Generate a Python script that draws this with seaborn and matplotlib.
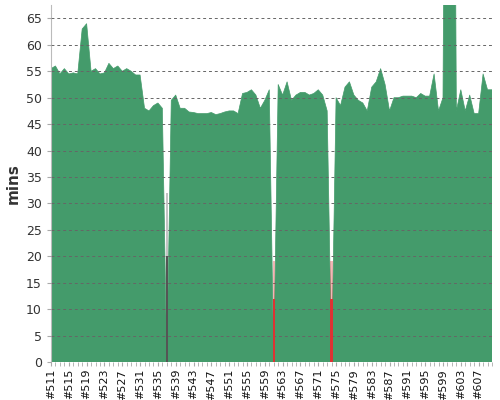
import matplotlib
matplotlib.use("Agg")
import matplotlib.pyplot as plt
import seaborn as sns
import numpy as np
import pandas as pd

builds = list(range(511, 611))
minutes = [55.5, 56, 54.5, 55.5, 54.5, 54.7, 54.5, 63, 64, 55,
           55.5, 54.5, 54.7, 56.5, 55.5, 56, 55, 55.5, 55, 54.3,
           54.3, 48, 47.5, 48.5, 49, 48, 0, 49.5, 50.5, 48,
           48, 47.3, 47.2, 47, 47, 47, 47.2, 46.8, 47, 47.3,
           47.5, 47.5, 47, 50.8, 51, 51.5, 50.5, 48, 49.5, 51.5,
           0, 52.5, 50.5, 53, 49.5, 50.5, 51, 51, 50.5, 50.8,
           51.5, 50.5, 47.5, 0, 50, 48.5, 52, 53, 50.5, 49.5,
           49, 47.5, 52, 53, 55.5, 52.5, 47.5, 50, 50, 50.3,
           50.3, 50.3, 50, 50.8, 50.3, 50.3, 54.5, 47.5, 50, 200,
           200, 47.5, 51.5, 47.5, 50.5, 47, 47, 54.5, 51.5, 51.5]
failed_builds = [537, 561, 574]
failed_colors = ["#555555", "#dd3333", "#dd3333"]
tick_builds = list(range(511, 611, 4))
tick_labels = [f"#{b}" for b in tick_builds]

df = pd.DataFrame({"build": builds, "mins": minutes})

sns.set_style("white")
fig = plt.figure(figsize=(5, 4), dpi=100)
ax = fig.add_axes([0.102, 0.095, 0.882, 0.892])
green = "#449b6b"
sns.lineplot(data=df, x="build", y="mins", ax=ax, color=green, linewidth=0.5)
ax.fill_between(df["build"], df["mins"], 0, color=green, linewidth=0, zorder=2)
for b, c in zip(failed_builds, failed_colors):
    top = 20 if c == "#555555" else 12
    ax.bar([b], [top], width=0.55, color=c, zorder=3, linewidth=0)
    ax.bar([b], [top * 0.6], width=0.55, bottom=top, color=c, alpha=0.35, zorder=3, linewidth=0)

ax.set_xlim(511, 610)
ax.set_ylim(0, 67.5)
ax.set_yticks(range(0, 66, 5))
ax.set_xticks(tick_builds)
ax.set_xticklabels(tick_labels, rotation=90, fontsize=8)
ax.set_xticks(builds, minor=True)
ax.tick_params(axis="x", which="both", bottom=True, length=3, color="#aaaaaa", pad=2)
ax.tick_params(axis="y", left=True, length=3, color="#aaaaaa", labelsize=9, colors="#333333")
ax.tick_params(axis="x", colors="#aaaaaa", labelcolor="#111111")
ax.yaxis.grid(True, linestyle=(0, (3, 3)), color="#666666", linewidth=0.7)
ax.set_axisbelow(False)
for s in ["top", "right"]:
    ax.spines[s].set_visible(False)
ax.spines["bottom"].set_visible(False)
ax.spines["left"].set_color("#bbbbbb")
ax.set_xlabel("")
ax.set_ylabel("mins", fontsize=11, fontweight="bold", color="#333333")
ax.set_zorder(1)
fig.savefig("out.png", dpi=100)
